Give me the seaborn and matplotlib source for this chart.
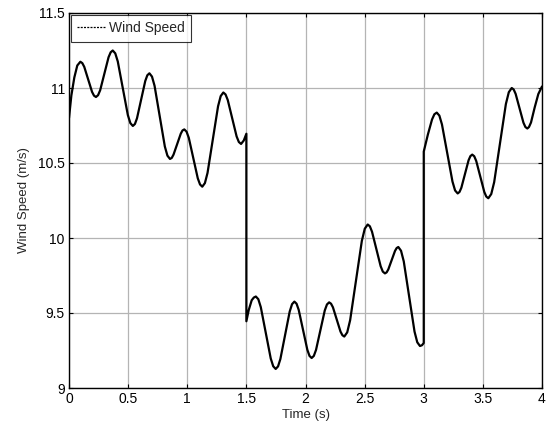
import matplotlib
matplotlib.use("Agg")
import matplotlib.pyplot as plt
from matplotlib.lines import Line2D
import seaborn as sns
import pandas as pd

# Values (extrema and intermediate points)
time_s = [
    0.0, 0.02, 0.045, 0.07, 0.096, 0.1125, 0.129, 0.162, 0.195, 0.2115,
    0.228, 0.2458, 0.2635, 0.299, 0.3345, 0.3523, 0.37, 0.3913, 0.4125, 0.455,
    0.4975, 0.5188, 0.54, 0.5575, 0.575, 0.61, 0.645, 0.6625, 0.68, 0.7018,
    0.7235, 0.767, 0.8105, 0.8323, 0.854, 0.8691, 0.884, 0.9145, 0.945, 0.9599,
    0.975, 0.994, 1.013, 1.051, 1.089, 1.108, 1.127, 1.1493, 1.1715, 1.216,
    1.2605, 1.2828, 1.305, 1.3238, 1.3425, 1.38, 1.4175, 1.4363, 1.455, 1.478,
    1.5,
    1.5, 1.52, 1.545, 1.563, 1.58, 1.601, 1.622, 1.664, 1.706, 1.727,
    1.748, 1.7678, 1.7875, 1.827, 1.8665, 1.8863, 1.906, 1.9243, 1.9425, 1.979,
    2.0155, 2.0338, 2.052, 2.0705, 2.089, 2.126, 2.163, 2.1815, 2.20, 2.216,
    2.232, 2.264, 2.296, 2.312, 2.328, 2.3528, 2.3775, 2.427, 2.4765, 2.5013,
    2.526, 2.5443, 2.5625, 2.599, 2.6355, 2.6538, 2.672, 2.6861, 2.70, 2.7285,
    2.757, 2.7709, 2.785, 2.8079, 2.831, 2.8765, 2.922, 2.9451, 2.968, 2.985,
    3.0,
    3.0, 3.035, 3.07, 3.09, 3.11, 3.1321, 3.154, 3.1985, 3.243, 3.2649,
    3.287, 3.3024, 3.318, 3.3485, 3.379, 3.3946, 3.41, 3.427, 3.444, 3.478,
    3.512, 3.529, 3.546, 3.5708, 3.5955, 3.645, 3.6945, 3.7193, 3.744, 3.7605,
    3.777, 3.81, 3.843, 3.8595, 3.876, 3.89, 3.907, 3.938, 3.969, 4.0,
]
wind_speed = [
    10.80, 10.95, 11.07, 11.15, 11.175, 11.166, 11.141, 11.057, 10.974, 10.949,
    10.94, 10.952, 10.985, 11.095, 11.205, 11.238, 11.25, 11.231, 11.177, 10.998,
    10.820, 10.766, 10.747, 10.760, 10.798, 10.922, 11.047, 11.085, 11.098, 11.076,
    11.015, 10.812, 10.610, 10.549, 10.527, 10.534, 10.556, 10.625, 10.695, 10.717,
    10.724, 10.709, 10.668, 10.533, 10.398, 10.357, 10.342, 10.366, 10.434, 10.656,
    10.878, 10.946, 10.97, 10.957, 10.920, 10.798, 10.677, 10.640, 10.627, 10.65,
    10.695,
    9.445, 9.52, 9.585, 9.603, 9.61, 9.592, 9.539, 9.368, 9.197, 9.145,
    9.127, 9.144, 9.193, 9.351, 9.510, 9.559, 9.576, 9.562, 9.521, 9.388,
    9.255, 9.214, 9.20, 9.214, 9.254, 9.385, 9.517, 9.557, 9.571, 9.562,
    9.538, 9.457, 9.376, 9.352, 9.343, 9.371, 9.452, 9.716, 9.981, 10.062,
    10.09, 10.078, 10.042, 9.927, 9.812, 9.776, 9.764, 9.771, 9.790, 9.852,
    9.914, 9.933, 9.94, 9.915, 9.844, 9.61, 9.376, 9.305, 9.28, 9.285,
    9.30,
    10.576, 10.69, 10.79, 10.825, 10.836, 10.816, 10.757, 10.566, 10.376, 10.317,
    10.297, 10.307, 10.335, 10.426, 10.518, 10.546, 10.556, 10.545, 10.513, 10.410,
    10.307, 10.276, 10.265, 10.293, 10.372, 10.632, 10.893, 10.972, 11.0, 10.990,
    10.961, 10.865, 10.769, 10.740, 10.73, 10.74, 10.77, 10.87, 10.96, 11.01,
]
x_ticks = [0, 0.5, 1, 1.5, 2, 2.5, 3, 3.5, 4]
x_tick_labels = ["0", "0.5", "1", "1.5", "2", "2.5", "3", "3.5", "4"]
y_ticks = [9, 9.5, 10, 10.5, 11, 11.5]
y_tick_labels = ["9", "9.5", "10", "10.5", "11", "11.5"]

df = pd.DataFrame({"Time": time_s, "Wind": wind_speed})

sns.set_style("white")
plt.rcParams["font.family"] = ["Liberation Sans", "DejaVu Sans"]

fig = plt.figure(figsize=(5.49, 4.28), dpi=100)
ax = fig.add_axes([69 / 549, 1 - 388 / 428, (542 - 69) / 549, (388 - 13) / 428])

sns.lineplot(data=df, x="Time", y="Wind", sort=False, estimator=None,
             color="black", linewidth=1.6, ax=ax, legend=False)

ax.set_xlim(0, 4)
ax.set_ylim(9, 11.5)
ax.set_xticks(x_ticks)
ax.set_xticklabels(x_tick_labels)
ax.set_yticks(y_ticks)
ax.set_yticklabels(y_tick_labels)
ax.grid(True, color="#b4b4b4", linewidth=0.9, linestyle="-")
ax.set_axisbelow(True)
ax.tick_params(direction="in", length=3, width=0.8, labelsize=10,
               top=True, right=True, bottom=True, left=True, pad=3,
               colors="black")
for sp in ax.spines.values():
    sp.set_visible(True)
    sp.set_color("black")
    sp.set_linewidth(1.0)

ax.set_xlabel("Time (s)", fontsize=9.5, labelpad=2)
ax.set_ylabel("Wind Speed (m/s)", fontsize=9.5, labelpad=6)

handle = Line2D([], [], color="black", linestyle=(0, (1.6, 1.0)), linewidth=0.9)
leg = ax.legend([handle], ["Wind Speed"], loc="upper left", borderaxespad=0.15,
                fontsize=10, handlelength=2.0, handletextpad=0.3,
                fancybox=False, frameon=True, borderpad=0.45)
leg.get_frame().set_edgecolor("black")
leg.get_frame().set_linewidth(0.8)

fig.savefig("out.png", dpi=100)
